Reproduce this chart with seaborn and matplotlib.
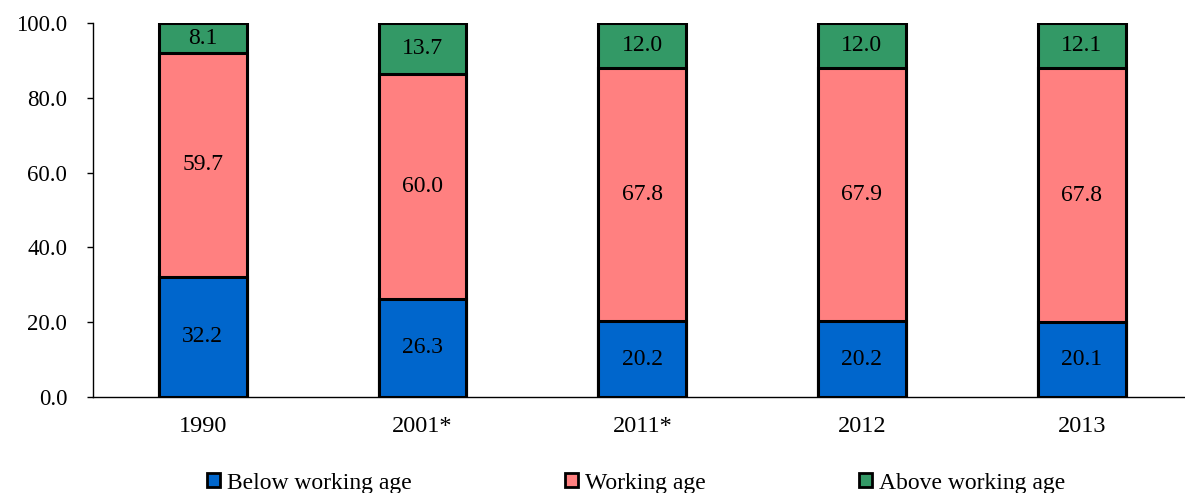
import matplotlib
matplotlib.use("Agg")
import matplotlib.pyplot as plt
import seaborn as sns
import pandas as pd
import numpy as np
from matplotlib.patches import Patch

years = ["1990", "2001*", "2011*", "2012", "2013"]
below = [32.2, 26.3, 20.2, 20.2, 20.1]
working = [59.7, 60.0, 67.8, 67.9, 67.8]
above = [8.1, 13.7, 12.0, 12.0, 12.1]
series_names = ["Below working age", "Working age", "Above working age"]
colors = ["#0066CC", "#FF8080", "#339966"]
yticks = [0, 20, 40, 60, 80, 100]

sns.set_theme(style="white")
plt.rcParams['font.family'] = ['Liberation Serif', 'DejaVu Serif']
plt.rcParams['text.color'] = 'black'
plt.rcParams['xtick.color'] = 'black'
plt.rcParams['ytick.color'] = 'black'

fig = plt.figure(figsize=(11.85, 4.93), dpi=100)
W, H = 1185, 493
ax = fig.add_axes([93 / W, (H - 397) / H, (1191.5 - 93) / W, (397 - 23) / H])

df = pd.DataFrame({"year": years, "below": below, "working": working, "above": above})
df["c1"] = df["below"]
df["c2"] = df["below"] + df["working"]
df["c3"] = df["c2"] + df["above"]

for col, color in zip(["c3", "c2", "c1"], colors[::-1]):
    sns.barplot(data=df, x="year", y=col, color=color, width=0.40, ax=ax,
                edgecolor="black", linewidth=2.2, saturation=1, order=years)

for i in range(len(years)):
    segs = [(0, below[i]), (below[i], below[i] + working[i]),
            (below[i] + working[i], below[i] + working[i] + above[i])]
    vals = [below[i], working[i], above[i]]
    for (b, t), v in zip(segs, vals):
        ax.text(i, (b + t) / 2, f"{v:.1f}", ha="center", va="center",
                fontsize=17, color="black")

ax.set_ylim(0, 100)
ax.set_xlim(-0.5, len(years) - 0.5)
ax.set_yticks(yticks)
ax.set_yticklabels([f"{v:.1f}" for v in yticks], fontsize=16.5)
ax.set_xticks(range(len(years)))
ax.set_xticklabels(years, fontsize=17.5)
ax.set_xticks(np.arange(-0.5, len(years), 1.0), minor=True)
ax.tick_params(axis="x", which="major", length=0, pad=14)
ax.tick_params(axis="x", which="minor", length=4.5, width=1, direction="out", color="black")
ax.tick_params(axis="y", which="major", length=4.5, width=1, direction="out", color="black", left=True, pad=14)
ax.set_xlabel("")
ax.set_ylabel("")
for s in ["top", "right"]:
    ax.spines[s].set_visible(False)
for s in ["left", "bottom"]:
    ax.spines[s].set_color("black")
    ax.spines[s].set_linewidth(1)
ax.grid(False)

handles = [Patch(facecolor=c, edgecolor="black", linewidth=2) for c in colors]
fig.legend(handles, series_names, loc="center", bbox_to_anchor=(636 / W, (H - 483) / H),
           ncol=3, frameon=False, fontsize=17, handlelength=0.55, handleheight=0.55,
           handletextpad=0.3, columnspacing=6.5, borderaxespad=0, borderpad=0)

fig.savefig("out.png", dpi=100)
